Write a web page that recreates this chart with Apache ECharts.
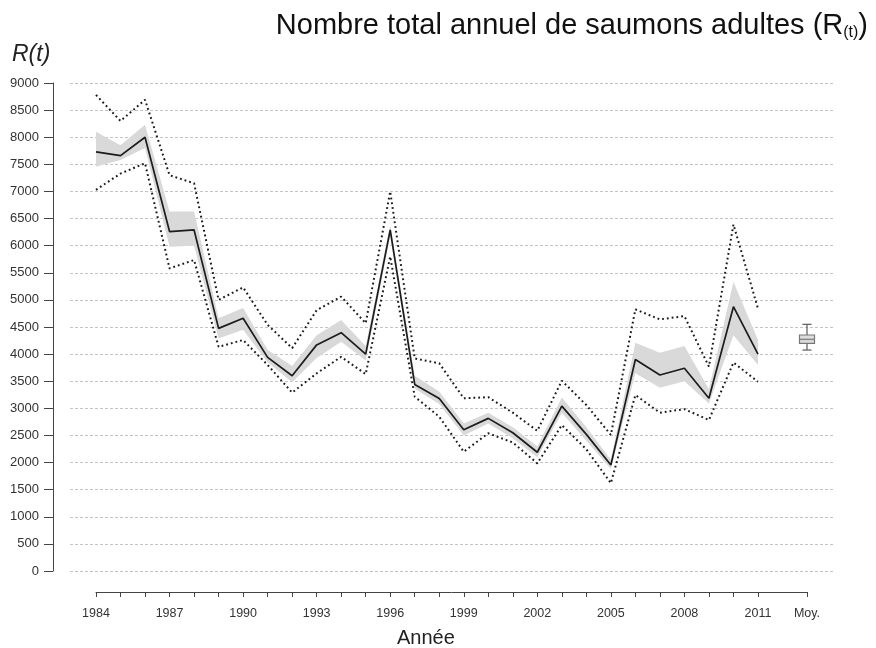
<!DOCTYPE html>
<html>
<head>
<meta charset="utf-8">
<script src="https://cdn.jsdelivr.net/npm/echarts@6/dist/echarts.min.js"></script>
<style>
    html, body { margin: 0; padding: 0; background: #fff; }
    #chart { width: 876px; height: 648px; }
</style>
</head>
<body>
<div id="chart"></div>
<script>
// années et estimations
var annees = [1984, 1985, 1986, 1987, 1988, 1989, 1990, 1991, 1992, 1993, 1994, 1995, 1996, 1997,
              1998, 1999, 2000, 2001, 2002, 2003, 2004, 2005, 2006, 2007, 2008, 2009, 2010, 2011];
var mediane = [7730, 7660, 8000, 6260, 6290, 4475, 4660, 3940, 3600, 4170, 4395, 4000, 6290, 3440,
               3180, 2605, 2815, 2550, 2190, 3040, 2520, 1955, 3900, 3615, 3740, 3185, 4875, 4000];
var ic95Haut = [8780, 8300, 8690, 7300, 7150, 5000, 5230, 4540, 4110, 4810, 5060, 4570, 7000, 3920,
                3830, 3185, 3205, 2920, 2585, 3510, 3060, 2510, 4825, 4640, 4700, 3770, 6390, 4840];
var ic95Bas = [7030, 7330, 7520, 5580, 5735, 4135, 4260, 3800, 3290, 3645, 3950, 3630, 5800, 3215,
               2845, 2200, 2540, 2370, 1985, 2690, 2245, 1620, 3245, 2920, 2985, 2785, 3845, 3490];
var ic50Haut = [8100, 7850, 8230, 6630, 6630, 4660, 4850, 4080, 3780, 4350, 4630, 4150, 6380, 3600,
                3310, 2720, 2920, 2650, 2300, 3200, 2650, 2050, 4210, 4025, 4150, 3350, 5335, 4260];
var ic50Bas = [7455, 7580, 7800, 5980, 6000, 4290, 4450, 3850, 3480, 3930, 4230, 3880, 6165, 3360,
               3080, 2500, 2720, 2450, 2100, 2920, 2400, 1880, 3645, 3380, 3500, 3090, 4350, 3800];
// boîte de la moyenne : position, min, Q1, médiane, Q3, max
var moyX = 2013;
var moyBoite = [4075, 4198, 4272, 4352, 4549];
// graduations de l'axe des x
var ticksX = annees.concat([moyX]);
var labelsX = [1984, 1987, 1990, 1993, 1996, 1999, 2002, 2005, 2008, 2011, moyX];

function paires(vals) {
    return annees.map(function (a, i) { return [a, vals[i]]; });
}

var myChart = echarts.init(document.getElementById('chart'));

var pointille = { color: '#1a1a1a', width: 2, type: [1.8, 3], cap: 'butt' };

option = {
    animation: false,
    backgroundColor: '#fff',
    textStyle: { fontFamily: 'Liberation Sans, Arial, sans-serif' },
    graphic: [
        {
            type: 'text', right: 8, top: 11,
            style: {
                text: '{a|Nombre total annuel de saumons adultes (R}{s|(t)}{a|)}',
                rich: {
                    a: { fontSize: 29, fill: '#111', fontFamily: 'Liberation Sans' },
                    s: { fontSize: 16, fill: '#111', fontFamily: 'Liberation Sans', padding: [14, 0, 0, 0] }
                }
            }
        },
        {
            type: 'text', left: 12, top: 43,
            style: { text: 'R(t)', fontSize: 23, fontStyle: 'italic', fill: '#222', fontFamily: 'Liberation Sans' }
        },
        {
            type: 'text', left: 397, top: 628,
            style: { text: 'Année', fontSize: 20, fill: '#222', fontFamily: 'Liberation Sans' }
        }
    ],
    grid: [
        { left: 70, right: 43, top: 83, bottom: 77 },
        { left: 96, right: 69, top: 83, bottom: 77 }
    ],
    xAxis: [
        { gridIndex: 0, type: 'value', min: 1983, max: 2014, show: false },
        {
            gridIndex: 1, type: 'value', min: 1984, max: 2013, offset: 21, position: 'bottom',
            splitLine: { show: false },
            axisLine: { show: true, onZero: false, lineStyle: { color: '#444', width: 1 } },
            axisTick: { show: true, length: 5, customValues: ticksX, lineStyle: { color: '#444' } },
            axisLabel: {
                customValues: labelsX, margin: 15, fontSize: 12.5, color: '#333',
                formatter: function (v) { return v === moyX ? 'Moy.' : String(v); }
            }
        }
    ],
    yAxis: [
        {
            gridIndex: 0, type: 'value', min: 0, max: 9000, interval: 500, offset: 17,
            axisLine: { show: true, onZero: false, lineStyle: { color: '#444', width: 1 } },
            axisTick: { show: true, length: 9, lineStyle: { color: '#444' } },
            axisLabel: { fontSize: 13, color: '#333', margin: 14, formatter: function (v) { return String(v); } },
            splitLine: { show: true, lineStyle: { color: '#c4c4c4', type: [3, 2], width: 1 } }
        },
        { gridIndex: 1, type: 'value', min: 0, max: 9000, show: false }
    ],
    series: [
        {
            // intervalle central (bande grise) dessiné en un seul polygone
            name: 'bande', type: 'custom', xAxisIndex: 1, yAxisIndex: 1, silent: true,
            data: annees.map(function (a, i) { return [a, ic50Bas[i], ic50Haut[i]]; }),
            renderItem: function (params, api) {
                if (params.dataIndex !== 0) return null;
                var n = params.dataInsideLength;
                var haut = [], bas = [];
                for (var i = 0; i < n; i++) {
                    var x = api.value(0, i);
                    bas.push(api.coord([x, api.value(1, i)]));
                    haut.unshift(api.coord([x, api.value(2, i)]));
                }
                return {
                    type: 'polygon',
                    shape: { points: bas.concat(haut) },
                    style: { fill: '#d9d9d9' }
                };
            }
        },
        {
            name: 'IC 95% haut', type: 'line', xAxisIndex: 1, yAxisIndex: 1,
            symbol: 'none', lineStyle: pointille,
            data: paires(ic95Haut)
        },
        {
            name: 'IC 95% bas', type: 'line', xAxisIndex: 1, yAxisIndex: 1,
            symbol: 'none', lineStyle: pointille,
            data: paires(ic95Bas)
        },
        {
            name: 'Médiane', type: 'line', xAxisIndex: 1, yAxisIndex: 1,
            symbol: 'none', lineStyle: { color: '#1c1c1c', width: 1.7 },
            data: paires(mediane)
        },
        {
            name: 'Moy.', type: 'custom', xAxisIndex: 1, yAxisIndex: 1,
            data: [[moyX].concat(moyBoite)],
            renderItem: function (params, api) {
                var x = api.value(0);
                var pMin = api.coord([x, api.value(1)]);
                var pQ1 = api.coord([x, api.value(2)]);
                var pMed = api.coord([x, api.value(3)]);
                var pQ3 = api.coord([x, api.value(4)]);
                var pMax = api.coord([x, api.value(5)]);
                var cx = pMed[0], bw = 15, cw = 9;
                var trait = { stroke: '#666', lineWidth: 1.3 };
                return {
                    type: 'group',
                    children: [
                        { type: 'line', shape: { x1: cx, y1: pMax[1], x2: cx, y2: pQ3[1] }, style: trait },
                        { type: 'line', shape: { x1: cx, y1: pQ1[1], x2: cx, y2: pMin[1] }, style: trait },
                        { type: 'line', shape: { x1: cx - cw / 2, y1: pMax[1], x2: cx + cw / 2, y2: pMax[1] }, style: trait },
                        { type: 'line', shape: { x1: cx - cw / 2, y1: pMin[1], x2: cx + cw / 2, y2: pMin[1] }, style: trait },
                        { type: 'rect', shape: { x: cx - bw / 2, y: pQ3[1], width: bw, height: pQ1[1] - pQ3[1] },
                          style: { fill: '#dedede', stroke: '#777', lineWidth: 1.2 } },
                        { type: 'line', shape: { x1: cx - bw / 2, y1: pMed[1], x2: cx + bw / 2, y2: pMed[1] },
                          style: { stroke: '#888', lineWidth: 1.5 } }
                    ]
                };
            }
        }
    ]
};

if (option && typeof option === "object") {
    myChart.setOption(option, true);
}
</script>
</body>
</html>
